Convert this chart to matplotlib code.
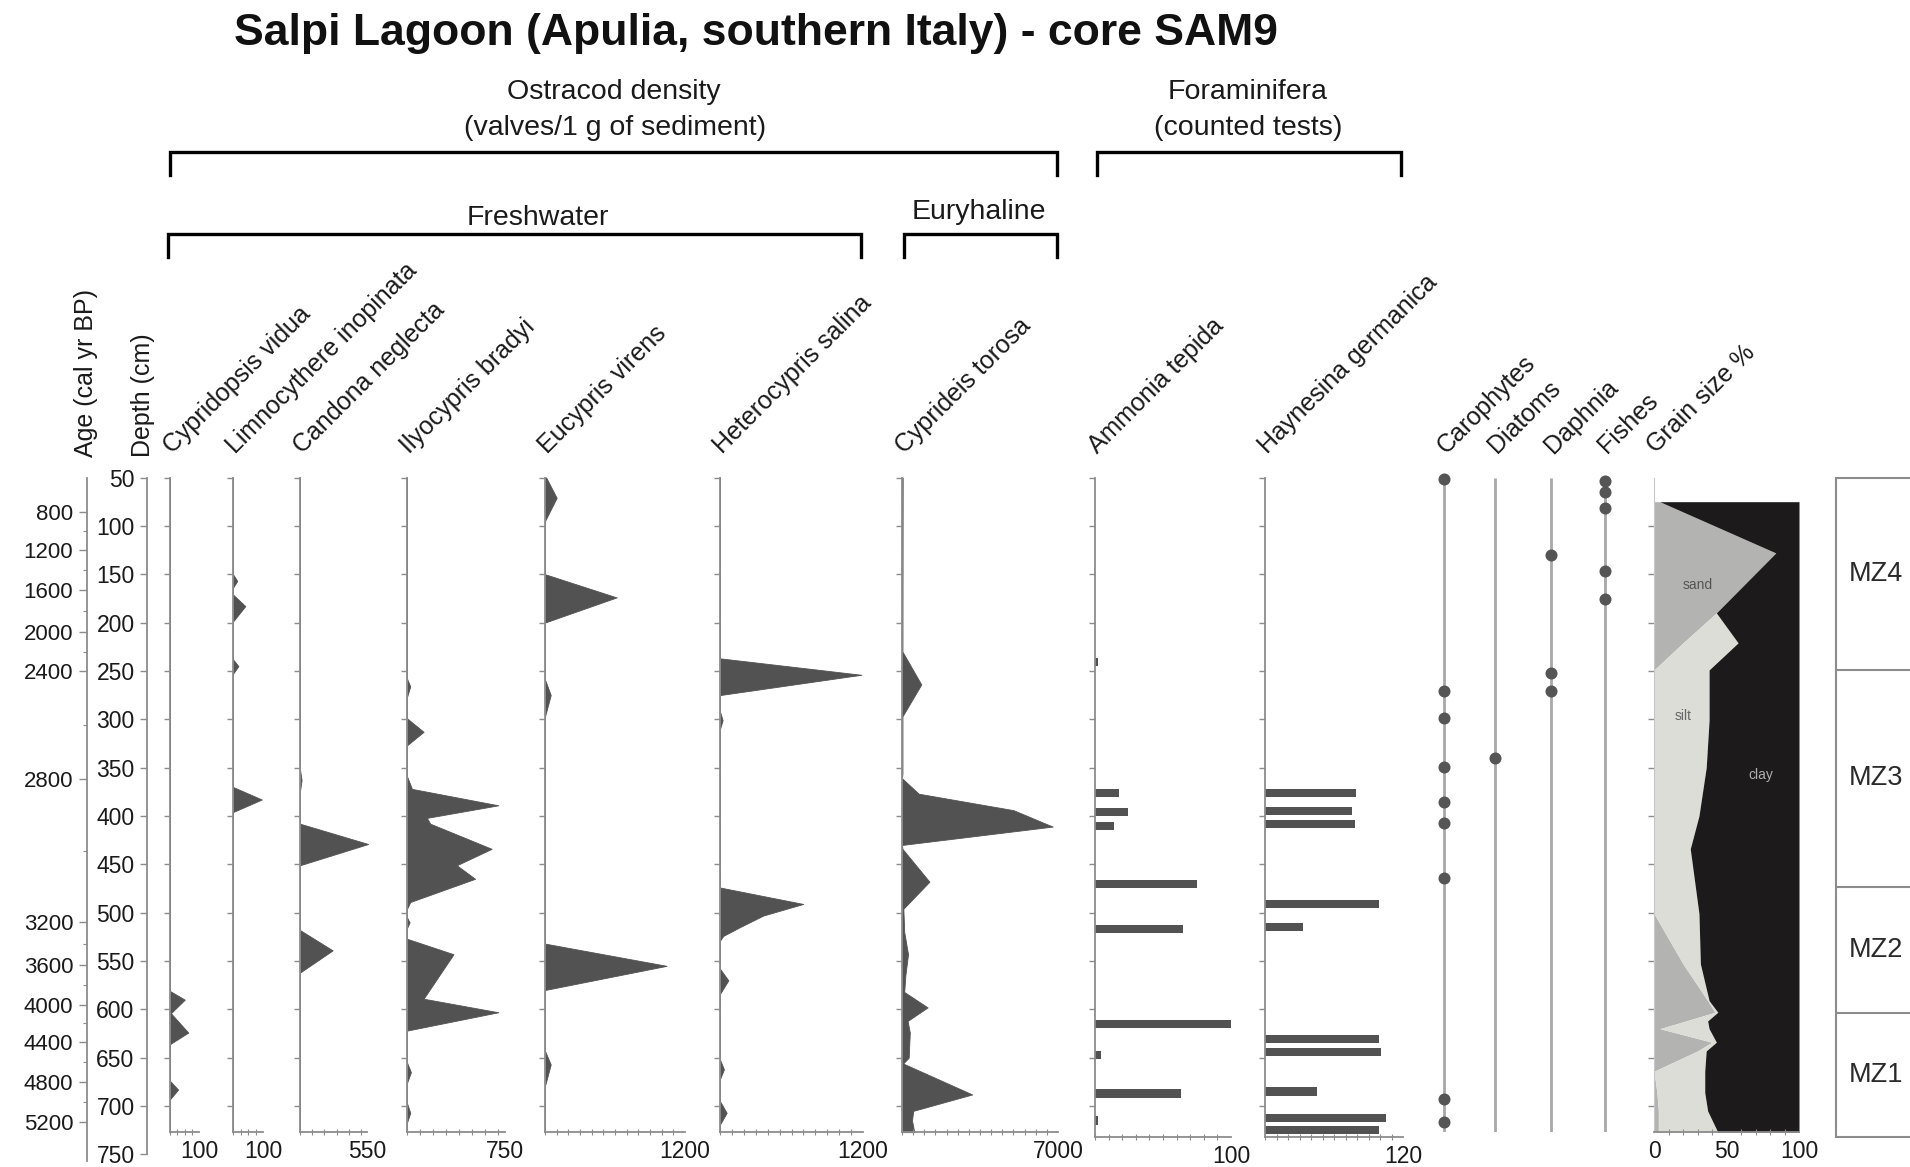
import matplotlib
matplotlib.use('Agg')
import matplotlib.pyplot as plt
from matplotlib.ticker import MultipleLocator, FixedLocator
from matplotlib.lines import Line2D

plt.rcParams['font.family'] = ['Liberation Sans', 'DejaVu Sans']

# ---------------- data ----------------
depth_ticks = list(range(50, 751, 50))
age_labels = [800, 1200, 1600, 2000, 2400, 2800, 3200, 3600, 4000, 4400, 4800, 5200]
age_depths = [86, 125, 166, 210, 250, 362, 510, 554, 595, 634, 675, 716]

cyp_vidua_depth = [50, 581, 590, 604, 624, 636, 674, 683, 693, 727]
cyp_vidua_val = [0, 0, 51, 3, 63, 0, 0, 28, 0, 0]

limno_depth = [50, 150, 157, 164, 171, 183, 199, 238, 245, 253, 370, 383, 396, 727]
limno_val = [0, 0, 14, 0, 0, 41, 0, 0, 18, 0, 0, 96, 0, 0]

candona_depth = [50, 352, 363, 374, 408, 429, 451, 518, 539, 562, 727]
candona_val = [0, 0, 13, 0, 0, 560, 0, 0, 268, 0, 0]

ilyo_depth = [50, 258, 266, 277, 299, 313, 327, 359, 372, 389, 402, 408, 434, 451, 465,
              489, 496, 505, 510, 516, 527, 543, 589, 603, 622, 655, 665, 676, 697, 707, 717, 727]
ilyo_val = [0, 0, 25, 0, 0, 127, 0, 0, 38, 699, 152, 178, 648, 381, 521,
            25, 0, 0, 20, 0, 0, 356, 127, 699, 0, 0, 30, 0, 0, 25, 0, 0]

eucy_depth = [50, 71, 95, 150, 174, 200, 259, 275, 297, 532, 555, 580, 643, 657, 679, 727]
eucy_val = [10, 100, 0, 0, 614, 0, 0, 49, 0, 0, 1043, 0, 0, 49, 0, 0]

hetero_depth = [50, 237, 254, 275, 292, 301, 310, 474, 491, 503, 515, 524, 529,
                558, 570, 584, 652, 662, 672, 695, 707, 719, 727]
hetero_val = [0, 0, 1186, 0, 0, 22, 0, 0, 698, 363, 167, 28, 0,
              0, 70, 0, 0, 33, 0, 0, 56, 0, 0]

cypri_depth = [50, 230, 264, 297, 356, 361, 377, 394, 411, 430, 434, 468, 496, 520, 543,
               565, 582, 598, 612, 624, 650, 656, 688, 705, 715, 727]
cypri_val = [30, 20, 865, 20, 20, 0, 750, 5000, 6760, 0, 20, 1230, 60, 100, 270,
             150, 100, 1150, 250, 350, 300, 50, 3150, 500, 450, 550]

ammonia_depth = [241, 376, 396, 410, 470, 517, 615, 647, 687, 715]
ammonia_val = [2, 17.5, 24, 14, 75, 65, 100, 4.5, 63, 2]

haynesina_depth = [376, 395, 408, 491, 515, 631, 644, 685, 712, 725]
haynesina_val = [79.5, 75.7, 78, 99, 33, 99, 101, 45, 105, 99]

carophytes_depth = [52, 271, 299, 349, 386, 407, 464, 693, 717]
diatoms_depth = [340]
daphnia_depth = [130, 252, 271]
fishes_depth = [54, 65, 82, 147, 176]

gs_depth = [75, 128, 190, 221, 249, 301, 350, 400, 434, 501, 553, 591, 603, 612, 620,
            634, 643, 664, 686, 705, 727]
gs_sand = [4, 84, 43, 20, 0, 0, 0, 0, 0, 0, 20, 37, 42, 22, 4, 40, 30, 0, 2, 3, 3]
gs_silt = [0, 0, 0, 38, 38, 38, 36, 31, 25, 31, 12, 1, 2, 15, 34, 3, 6, 35, 33, 34, 41]

zone_names = ['MZ4', 'MZ3', 'MZ2', 'MZ1']
zone_bounds = [50, 249, 473, 604, 732]

species_labels = ['Cypridopsis vidua', 'Limnocythere inopinata', 'Candona neglecta',
                  'Ilyocypris bradyi', 'Eucypris virens', 'Heterocypris salina',
                  'Cyprideis torosa', 'Ammonia tepida', 'Haynesina germanica']
other_labels = ['Carophytes', 'Diatoms', 'Daphnia', 'Fishes', 'Grain size %']
scale_max = [100, 100, 550, 750, 1200, 1200, 7000, 100, 120]

# ---------------- layout ----------------
W, H = 1910, 1167
fig = plt.figure(figsize=(W / 100, H / 100), dpi=100)
Y_TOP = 477.5
PX_CM = 0.967
FILL = '#525252'
GRAY = '#8c8c8c'
TXT = '#1a1a1a'


def ypx(d):
    return Y_TOP + (d - 50) * PX_CM


def add_ax(x0, x1, d0, d1):
    t, b = ypx(d0), ypx(d1)
    return fig.add_axes([x0 / W, 1 - b / H, (x1 - x0) / W, (b - t) / H])


def fx(x):
    return x / W


def fy(y):
    return 1 - y / H


panel_x = [(170, 199), (233, 263), (300, 367), (407, 505), (545, 685), (720, 863),
           (902, 1058), (1095, 1231), (1265, 1403)]
minor_steps = [25, 25, 100, 100, 100, 100, 500, 10, 10]
series = [(cyp_vidua_depth, cyp_vidua_val), (limno_depth, limno_val),
          (candona_depth, candona_val), (ilyo_depth, ilyo_val),
          (eucy_depth, eucy_val), (hetero_depth, hetero_val),
          (cypri_depth, cypri_val), (ammonia_depth, ammonia_val),
          (haynesina_depth, haynesina_val)]


def style_panel(ax, xmax, minor, d1):
    for s in ['top', 'right']:
        ax.spines[s].set_visible(False)
    for s in ['left', 'bottom']:
        ax.spines[s].set_color(GRAY)
        ax.spines[s].set_linewidth(1.3)
    ax.set_xlim(0, xmax)
    ax.set_ylim(d1, 50)
    ax.set_yticks(range(50, 701, 50))
    ax.set_yticklabels([])
    ax.tick_params(axis='y', direction='out', length=4, width=1, colors=GRAY)
    ax.set_xticks([xmax])
    ax.set_xticklabels([str(xmax)])
    ax.tick_params(axis='x', which='major', length=0, pad=6, labelsize=16.5, labelcolor=TXT)
    ax.xaxis.set_minor_locator(MultipleLocator(minor))
    ax.tick_params(axis='x', which='minor', direction='inout', length=4, width=0.8, color=GRAY)
    ax.patch.set_alpha(0)


for i, ((x0, x1), (dep, val)) in enumerate(zip(panel_x, series)):
    d1 = 732 if i >= 7 else 727
    ax = add_ax(x0, x1, 50, d1)
    style_panel(ax, scale_max[i], minor_steps[i], d1)
    if i >= 7:
        ax.barh(dep, val, height=8.5, color=FILL, lw=0)
    else:
        ax.fill_betweenx(dep, 0, val, color=FILL, lw=0.6, edgecolor=FILL, clip_on=False)

# depth axis
axd = add_ax(147, 147.2, 50, 750)
axd.set_ylim(750, 50)
axd.set_xticks([])
for s in ['top', 'right', 'bottom']:
    axd.spines[s].set_visible(False)
axd.spines['left'].set_color(GRAY)
axd.spines['left'].set_linewidth(1.3)
axd.set_yticks(depth_ticks)
axd.set_yticklabels([str(d) for d in depth_ticks])
axd.tick_params(axis='y', length=5, width=1, color=GRAY, pad=4, labelsize=16.5, labelcolor=TXT)

# age axis
axa = add_ax(87, 87.2, 50, 757)
axa.set_ylim(757, 50)
axa.set_xticks([])
for s in ['top', 'right', 'bottom']:
    axa.spines[s].set_visible(False)
axa.spines['left'].set_color(GRAY)
axa.spines['left'].set_linewidth(1.3)
axa.set_yticks(age_depths)
axa.set_yticklabels([str(a) for a in age_labels])
mids = [(a + b) / 2 for a, b in zip(age_depths[:-1], age_depths[1:])]
axa.yaxis.set_minor_locator(FixedLocator(mids))
axa.tick_params(axis='y', which='major', length=6, width=1, color=GRAY, pad=4,
                labelsize=16, labelcolor=TXT)
axa.tick_params(axis='y', which='minor', length=3, width=0.8, color=GRAY)

# presence columns
dot_cols = [(1444, carophytes_depth), (1495, diatoms_depth), (1551, daphnia_depth),
            (1605, fishes_depth)]
for xc, deps in dot_cols:
    ax = add_ax(xc - 10, xc + 10, 50, 727)
    ax.set_xlim(-1, 1)
    ax.set_ylim(727, 50)
    ax.axis('off')
    ax.plot([0, 0], [50, 727], color='#a8a8a8', lw=2, solid_capstyle='butt')
    ax.scatter([0] * len(deps), deps, s=75, color='#555555', zorder=3, clip_on=False,
               linewidths=0)

# grain size
axg = add_ax(1654, 1799, 50, 727)
axg.set_xlim(0, 100)
axg.set_ylim(727, 50)
cum = [a + b for a, b in zip(gs_sand, gs_silt)]
axg.fill_betweenx(gs_depth, 0, gs_sand, color='#b3b3b1', lw=0)
axg.fill_betweenx(gs_depth, gs_sand, cum, color='#dcddd6', lw=0)
axg.fill_betweenx(gs_depth, cum, 100, color='#1c1a1a', lw=0)
for s in ['top', 'right']:
    axg.spines[s].set_visible(False)
axg.spines['left'].set_color('#c8c8c8')
axg.spines['bottom'].set_color(GRAY)
axg.spines['bottom'].set_linewidth(1.3)
axg.set_yticks(range(100, 701, 50))
axg.set_yticklabels([])
axg.tick_params(axis='y', direction='out', length=4, width=1, colors=GRAY)
axg.set_xticks([0, 50, 100])
axg.set_xticklabels(['0', '50', '100'])
axg.tick_params(axis='x', which='major', length=0, pad=6, labelsize=16.5, labelcolor=TXT)
axg.xaxis.set_minor_locator(MultipleLocator(10))
axg.tick_params(axis='x', which='minor', direction='inout', length=4, width=0.8, color=GRAY)
axg.text(30, 161, 'sand', fontsize=10, color='#555555', ha='center', va='center')
axg.text(20, 297, 'silt', fontsize=10, color='#666666', ha='center', va='center')
axg.text(74, 358, 'clay', fontsize=10, color='#b0b0b0', ha='center', va='center')

# zones
axz = add_ax(1836, 1916, 50, 750)
axz.set_xlim(0, 1)
axz.set_ylim(750, 50)
axz.axis('off')
axz.plot([0, 0], [zone_bounds[0], zone_bounds[-1]], color=GRAY, lw=1.5, clip_on=False)
axz.hlines(zone_bounds, 0, 1.2, color=GRAY, lw=1.5, clip_on=False)
for name, a, b in zip(zone_names, zone_bounds[:-1], zone_bounds[1:]):
    axz.text(0.5, (a + b) / 2, name, fontsize=19.5, ha='center', va='center', color='#2a2a2a')

# rotated labels
label_x = [p[0] for p in panel_x] + [1444, 1495, 1551, 1605, 1654]
for xl, name in zip(label_x, species_labels + other_labels):
    fig.text(fx(xl + 6), fy(458), name, rotation=45, rotation_mode='anchor', ha='left',
             va='bottom', fontsize=18, color=TXT)
fig.text(fx(143), fy(457), 'Depth (cm)', rotation=90, rotation_mode='anchor', ha='left',
         va='center', fontsize=18, color=TXT)
fig.text(fx(86), fy(457), 'Age (cal yr BP)', rotation=90, rotation_mode='anchor', ha='left',
         va='center', fontsize=18, color=TXT)

# headers
fig.text(fx(756), fy(34), 'Salpi Lagoon (Apulia, southern Italy) - core SAM9', fontsize=32,
         fontweight='bold', ha='center', va='center', color='#111111')
fig.text(fx(614), fy(92), 'Ostracod density', fontsize=20.5, ha='center', va='center', color=TXT)
fig.text(fx(615), fy(128), '(valves/1 g of sediment)', fontsize=20.5, ha='center', va='center',
         color=TXT)
fig.text(fx(1248), fy(92), 'Foraminifera', fontsize=20.5, ha='center', va='center', color=TXT)
fig.text(fx(1248), fy(128), '(counted tests)', fontsize=20.5, ha='center', va='center', color=TXT)
fig.text(fx(538), fy(218), 'Freshwater', fontsize=20.5, ha='center', va='center', color=TXT)
fig.text(fx(979), fy(212), 'Euryhaline', fontsize=20.5, ha='center', va='center', color=TXT)


def bracket(x0, x1, y, y2):
    fig.add_artist(Line2D([fx(x0), fx(x0), fx(x1), fx(x1)], [fy(y2), fy(y), fy(y), fy(y2)],
                          transform=fig.transFigure, color='black', lw=2.4,
                          solid_joinstyle='miter'))


bracket(170, 1057, 152, 175)
bracket(1097, 1401, 152, 175)
bracket(168, 861, 234, 257)
bracket(904, 1057, 234, 257)

fig.savefig('out.png', dpi=100, facecolor='white')
